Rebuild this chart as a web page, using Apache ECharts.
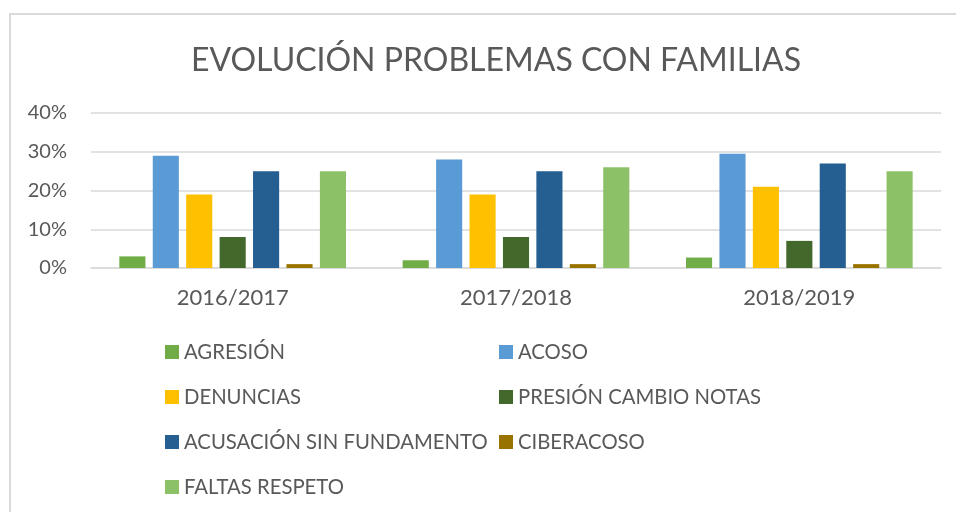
<!DOCTYPE html>
<html>
<head>
<meta charset="utf-8">
<script src="https://cdn.jsdelivr.net/npm/echarts@6/dist/echarts.min.js"></script>
<style>
  html, body { margin: 0; padding: 0; background: #fff; }
  #chart { width: 956px; height: 512px; }
</style>
</head>
<body>
<div id="chart"></div>
<script>
// datos
var cursos = ['2016/2017', '2017/2018', '2018/2019']
var agresion = [3, 2, 2.7]
var acoso = [29, 28, 29.5]
var denuncias = [19, 19, 21]
var presionNotas = [8, 8, 7]
var acusacion = [25, 25, 27]
var ciberacoso = [1, 1, 1]
var faltasRespeto = [25, 26, 25]

var fuente = 'Lato'
var gris = '#595959'

var series = [
  { name: 'AGRESIÓN', data: agresion, color: '#70ad47' },
  { name: 'ACOSO', data: acoso, color: '#5b9bd5' },
  { name: 'DENUNCIAS', data: denuncias, color: '#ffc000' },
  { name: 'PRESIÓN CAMBIO NOTAS', data: presionNotas, color: '#43682b' },
  { name: 'ACUSACIÓN SIN FUNDAMENTO', data: acusacion, color: '#255e91' },
  { name: 'CIBERACOSO', data: ciberacoso, color: '#997300' },
  { name: 'FALTAS RESPETO', data: faltasRespeto, color: '#8cc168' }
].map(function (s) {
  return {
    name: s.name,
    type: 'bar',
    data: s.data,
    barGap: '28%',
    barCategoryGap: '20%',
    itemStyle: { color: s.color }
  }
})

// leyenda en dos columnas
function legendCol(left, names) {
  return {
    orient: 'vertical',
    left: left,
    top: 336,
    padding: 5,
    icon: 'rect',
    itemWidth: 14,
    itemHeight: 14,
    itemGap: 23,
    data: names,
    textStyle: { fontFamily: fuente, fontSize: 20.3, color: gris, lineHeight: 22 }
  }
}

var chart = echarts.init(document.getElementById('chart'))
chart.setOption({
  animation: false,
  textStyle: { fontFamily: fuente },
  title: {
    text: 'EVOLUCIÓN PROBLEMAS CON FAMILIAS',
    left: 491,
    textAlign: 'center',
    top: 40,
    textStyle: { fontFamily: fuente, fontSize: 32, fontWeight: 'normal', color: gris }
  },
  graphic: [{
    type: 'rect',
    shape: { x: 10, y: 14, width: 1000, height: 1000 },
    style: { fill: null, stroke: '#d9d9d9', lineWidth: 2 },
    silent: true
  }],
  legend: [
    legendCol(160, ['AGRESIÓN', 'DENUNCIAS', 'ACUSACIÓN SIN FUNDAMENTO', 'FALTAS RESPETO']),
    legendCol(494, ['ACOSO', 'PRESIÓN CAMBIO NOTAS', 'CIBERACOSO'])
  ],
  grid: { left: 91, right: 15, top: 113, bottom: 244 },
  xAxis: {
    type: 'category',
    data: cursos,
    axisLine: { lineStyle: { color: '#d9d9d9', width: 1.5 } },
    axisTick: { show: false },
    axisLabel: { fontFamily: fuente, fontSize: 22, color: gris, margin: 19 }
  },
  yAxis: {
    type: 'value',
    min: 0,
    max: 40,
    interval: 10,
    axisLine: { show: false },
    axisTick: { show: false },
    splitLine: { lineStyle: { color: '#d9d9d9', width: 1.5 } },
    axisLabel: { fontFamily: fuente, fontSize: 20, color: gris, margin: 24, formatter: '{value}%' }
  },
  series: series
})
</script>
</body>
</html>
